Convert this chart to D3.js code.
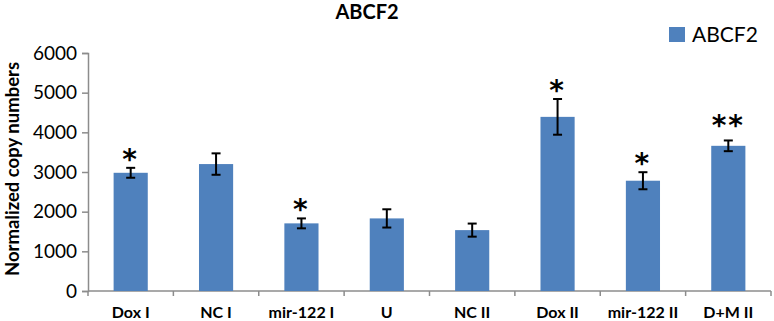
<!DOCTYPE html>
<html>
<head>
<meta charset="utf-8">
<script src="https://cdn.jsdelivr.net/npm/d3@7"></script>
<style>
  body { margin: 0; background: #fff; }
  svg { display: block; font-family: Lato, "Open Sans", sans-serif; }
</style>
</head>
<body>
<div id="chart"></div>
<script>
// data
const categories = ["Dox I", "NC I", "mir-122 I", "U", "NC II", "Dox II", "mir-122 II", "D+M II"];
const values = [2980, 3200, 1705, 1830, 1535, 4390, 2780, 3660];
const errors = [125, 270, 125, 230, 165, 450, 215, 135];
const marks = ["*", "", "*", "", "", "*", "*", "**"];
const yTicks = [0, 1000, 2000, 3000, 4000, 5000, 6000];

const width = 774, height = 321,
    margin = {top: 53, right: 3, bottom: 30, left: 88},
    barColor = "#4f81bd",
    axisColor = "#8c8c8c";

let svg = d3.select("#chart")
    .append("svg")
    .attr("width", width)
    .attr("height", height);

let x = d3.scaleBand()
    .domain(categories)
    .range([margin.left, width - margin.right])
    .paddingInner(0.6)
    .paddingOuter(0.3);

let y = d3.scaleLinear()
    .domain([0, 6000])
    .range([height - margin.bottom, margin.top]);

// title
svg.append("text")
    .attr("x", 367)
    .attr("y", 19)
    .attr("text-anchor", "middle")
    .style("font-size", "20px")
    .style("font-weight", "bold")
    .text("ABCF2");

// y axis
let yAxis = svg.append("g")
    .attr("transform", "translate(" + margin.left + ",0)")
    .call(d3.axisLeft(y).tickValues(yTicks).tickSize(6).tickPadding(5).tickFormat(d3.format("d")));
yAxis.selectAll("path, line").attr("stroke", axisColor).attr("stroke-width", 1.5);
yAxis.selectAll("text")
    .style("font-size", "19px")
    .style("font-family", "Lato, sans-serif")
    .attr("fill", "#000");

// x axis line + ticks between categories
let step = x.step();
let xAxis = svg.append("g");
xAxis.append("line")
    .attr("x1", margin.left)
    .attr("x2", width - margin.right)
    .attr("y1", y(0))
    .attr("y2", y(0))
    .attr("stroke", axisColor)
    .attr("stroke-width", 1.5);
xAxis.selectAll(".xtick")
    .data(d3.range(categories.length + 1))
    .enter()
    .append("line")
    .attr("class", "xtick")
    .attr("x1", i => margin.left + i * step)
    .attr("x2", i => margin.left + i * step)
    .attr("y1", y(0))
    .attr("y2", y(0) + 5)
    .attr("stroke", axisColor)
    .attr("stroke-width", 1.5);
xAxis.selectAll(".xlabel")
    .data(categories)
    .enter()
    .append("text")
    .attr("class", "xlabel")
    .attr("x", d => x(d) + x.bandwidth() / 2)
    .attr("y", 318)
    .attr("text-anchor", "middle")
    .style("font-size", "16px")
    .style("font-weight", "bold")
    .text(d => d);

// y title
svg.append("text")
    .attr("transform", "translate(19," + 169 + ") rotate(-90)")
    .attr("text-anchor", "middle")
    .style("font-size", "18.5px")
    .style("font-weight", "bold")
    .text("Normalized copy numbers");

// bars
const rows = categories.map((c, i) => ({cat: c, value: values[i], err: errors[i], mark: marks[i]}));

svg.selectAll(".bar")
    .data(rows)
    .enter()
    .append("rect")
    .attr("class", "bar")
    .attr("x", d => x(d.cat))
    .attr("width", x.bandwidth())
    .attr("y", d => y(d.value))
    .attr("height", d => y(0) - y(d.value))
    .attr("fill", barColor);

// error bars
let errG = svg.selectAll(".err")
    .data(rows)
    .enter()
    .append("g")
    .attr("class", "err")
    .attr("stroke", "#000")
    .attr("stroke-width", 2);
errG.append("line")
    .attr("x1", d => x(d.cat) + x.bandwidth() / 2)
    .attr("x2", d => x(d.cat) + x.bandwidth() / 2)
    .attr("y1", d => y(d.value + d.err))
    .attr("y2", d => y(d.value - d.err));
errG.append("line")
    .attr("x1", d => x(d.cat) + x.bandwidth() / 2 - 4.5)
    .attr("x2", d => x(d.cat) + x.bandwidth() / 2 + 4.5)
    .attr("y1", d => y(d.value + d.err))
    .attr("y2", d => y(d.value + d.err));
errG.append("line")
    .attr("x1", d => x(d.cat) + x.bandwidth() / 2 - 4.5)
    .attr("x2", d => x(d.cat) + x.bandwidth() / 2 + 4.5)
    .attr("y1", d => y(d.value - d.err))
    .attr("y2", d => y(d.value - d.err));

// significance marks
svg.selectAll(".mark")
    .data(rows.filter(d => d.mark))
    .enter()
    .append("text")
    .attr("class", "mark")
    .attr("x", d => x(d.cat) + x.bandwidth() / 2)
    .attr("y", d => y(d.value + d.err) + (d.mark.length > 1 ? -5 : 1))
    .attr("text-anchor", "middle")
    .style("font-size", "28px")
    .style("font-weight", "bold")
    .style("font-family", "'DejaVu Sans', sans-serif")
    .style("letter-spacing", "2px")
    .text(d => d.mark);

// legend
let legend = svg.append("g");
legend.append("rect")
    .attr("x", 669)
    .attr("y", 27)
    .attr("width", 16)
    .attr("height", 15)
    .attr("fill", barColor);
legend.append("text")
    .attr("x", 692)
    .attr("y", 42)
    .style("font-size", "21px")
    .text("ABCF2");
</script>
</body>
</html>
